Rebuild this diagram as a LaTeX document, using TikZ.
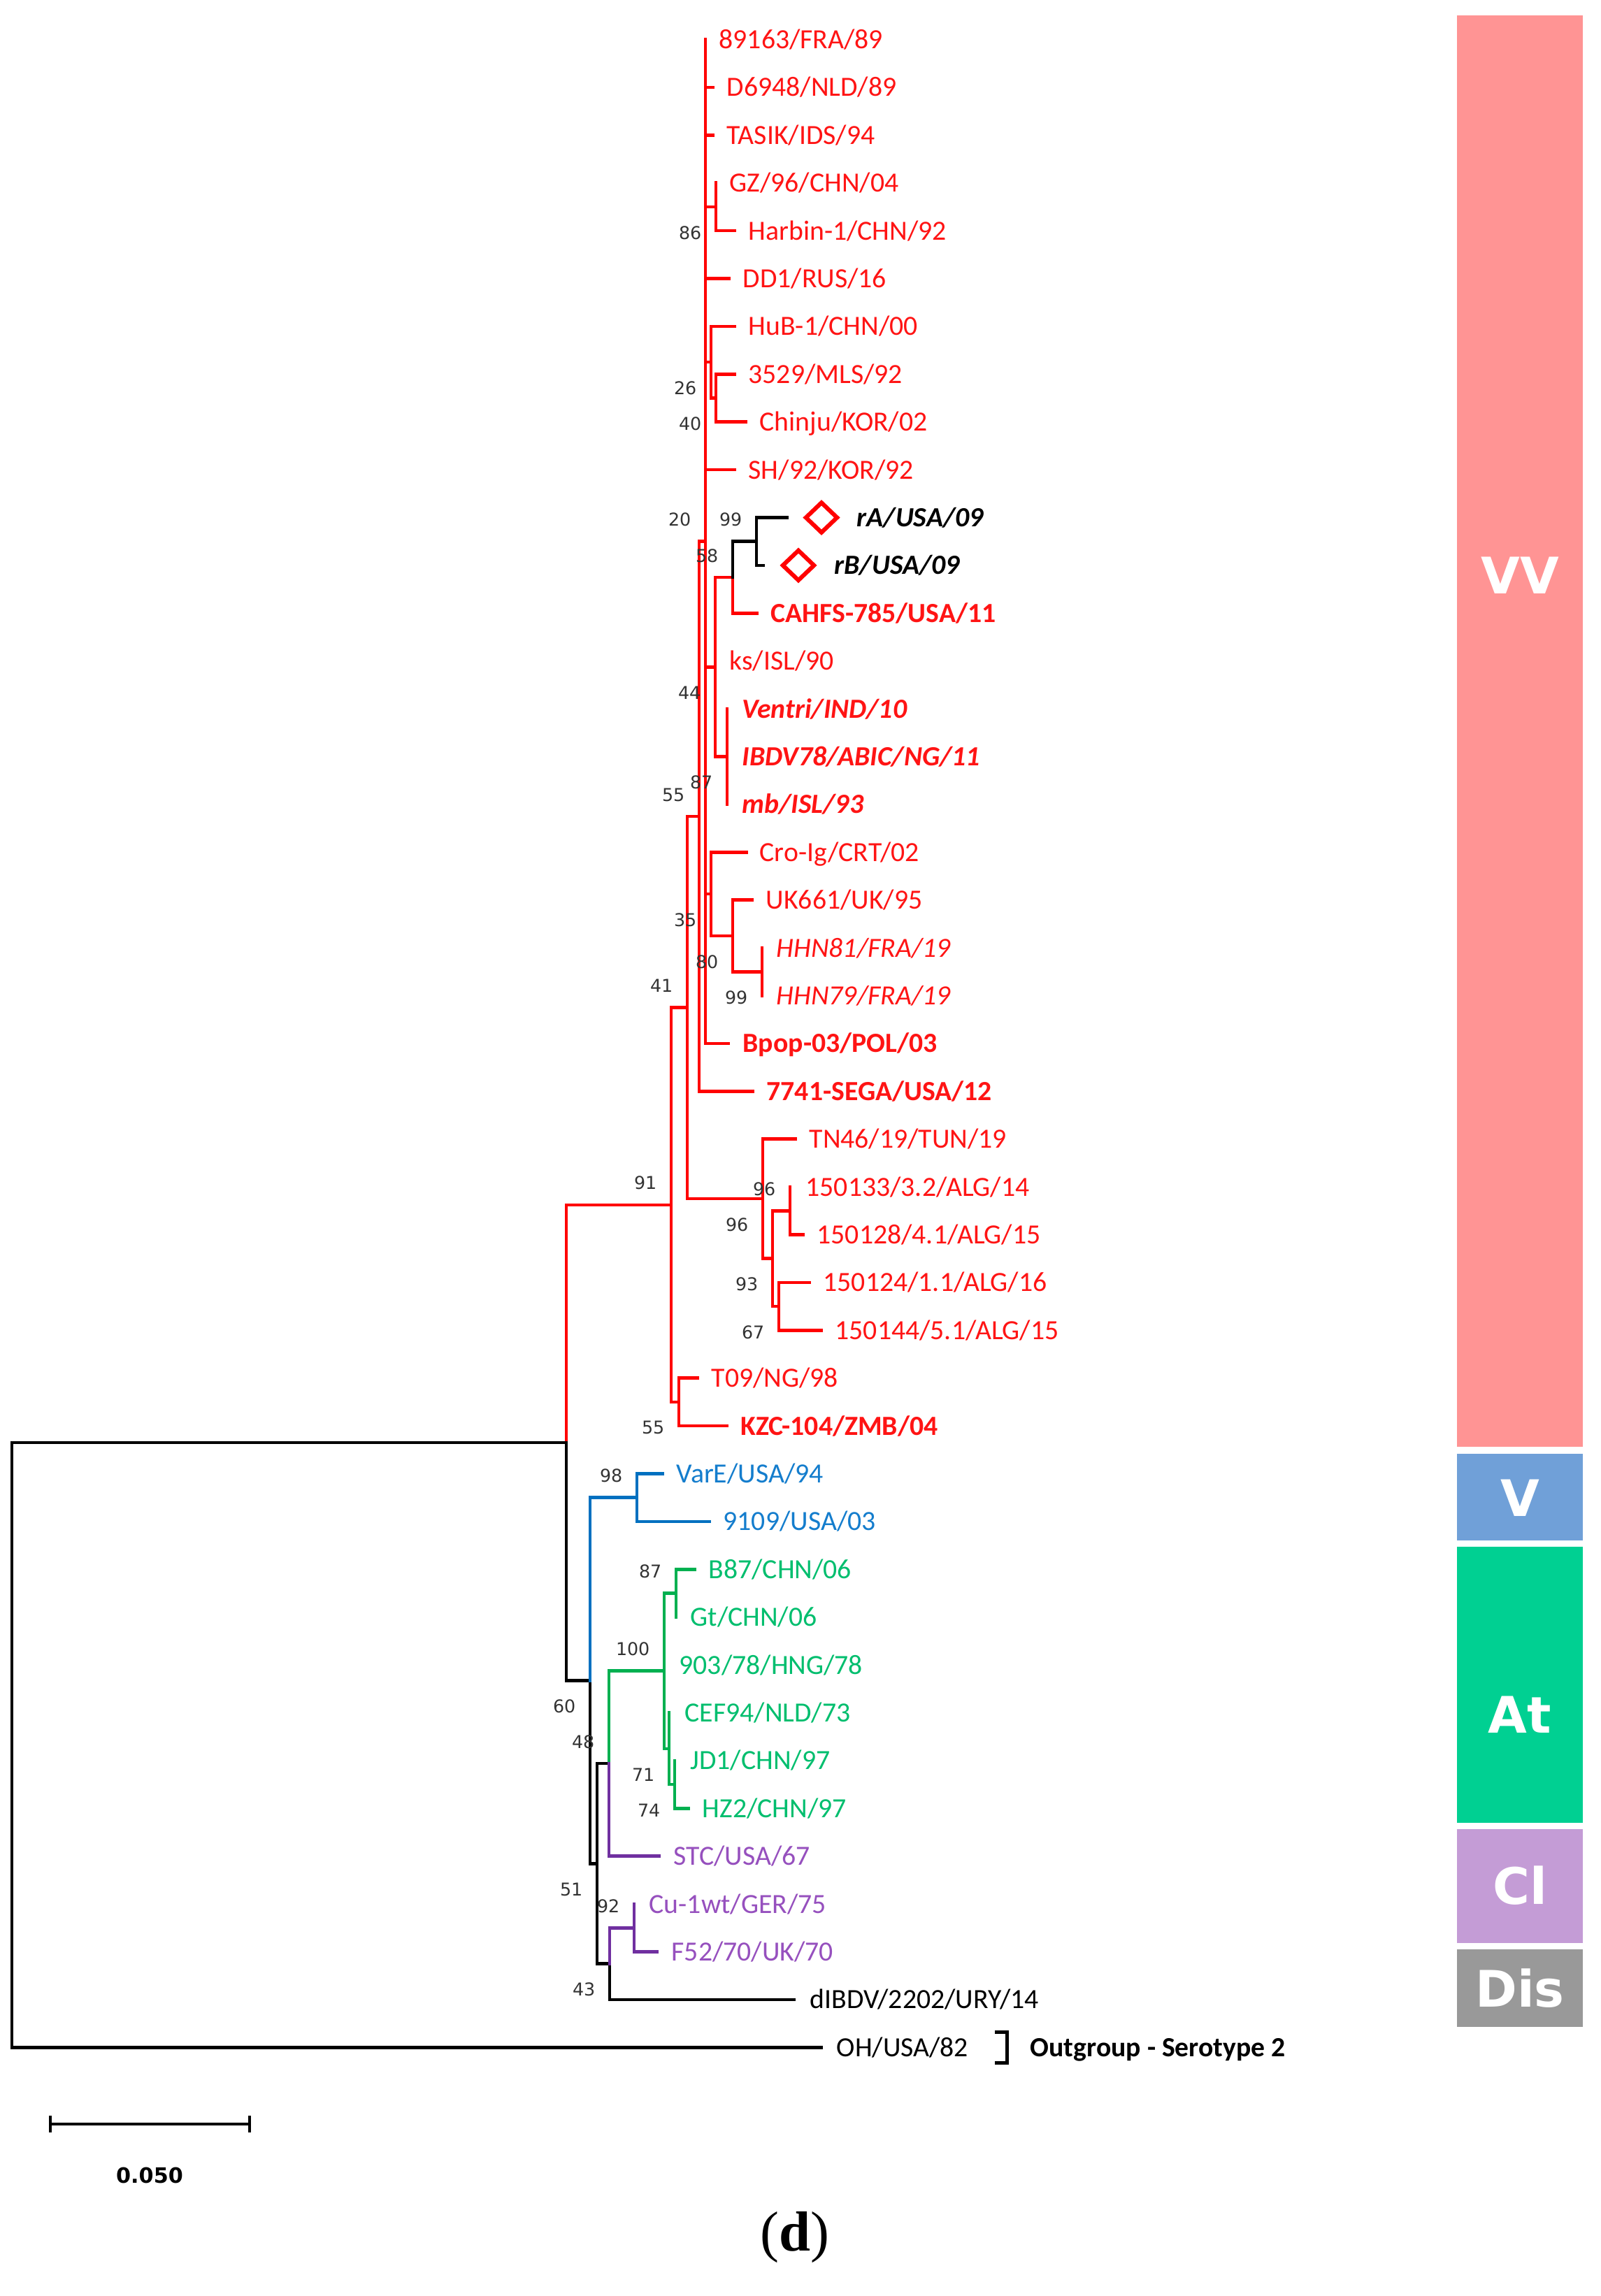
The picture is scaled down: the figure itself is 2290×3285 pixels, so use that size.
\documentclass[tikz,border=0pt]{standalone}
\usepackage{fontspec}
\setmainfont{Carlito}
\newfontfamily\bsf{DejaVu Sans}
\newfontfamily\serf{Liberation Serif}
\usetikzlibrary{shapes.geometric}
\definecolor{vblue}{RGB}{0,112,192}
\definecolor{atgreen}{RGB}{0,176,80}
\definecolor{clpurple}{RGB}{112,48,160}
\definecolor{labred}{RGB}{255,20,20}
\definecolor{labblue}{RGB}{20,125,205}
\definecolor{labgreen}{RGB}{0,190,110}
\definecolor{labpurple}{RGB}{150,80,190}
\definecolor{barvv}{RGB}{255,148,148}
\definecolor{barv}{RGB}{112,160,216}
\definecolor{barat}{RGB}{0,208,146}
\definecolor{barcl}{RGB}{196,156,214}
\definecolor{bardis}{RGB}{153,153,153}
\newcommand\labfont{\fontsize{11.3}{13}\selectfont}
\newcommand\bsfont{\bsf\fontsize{7.2}{8}\selectfont}
\tikzset{
  edge/.style={line width=0.45mm, line cap=rect, line join=miter},
  redge/.style={edge, red},
  kedge/.style={edge, black},
  bedge/.style={edge, vblue},
  gedge/.style={edge, atgreen},
  pedge/.style={edge, clpurple},
  lab/.style={font=\labfont, inner sep=0pt, anchor=base west},
  rl/.style={lab, text=labred},
  bl/.style={lab, text=labblue},
  gl/.style={lab, text=labgreen},
  pl/.style={lab, text=labpurple},
  kl/.style={lab, text=black},
  bs/.style={font=\bsfont, inner sep=0pt, anchor=east, text=black!80},
  dmd/.style={diamond, draw=red, line width=0.6mm, inner sep=0pt, minimum width=4.7mm, minimum height=4.5mm},
  bartxt/.style={font=\bsf\bfseries\fontsize{20.5}{22}\selectfont, text=white, inner sep=0pt},
}
\begin{document}
\begin{tikzpicture}[x=0.1mm,y=-0.1mm]
\fill[white] (0,0) rectangle (2290,3285);
\useasboundingbox (0,0) rectangle (2290,3285);

% ---------- leaf tips ----------
\coordinate (t0) at (1009,56.5);
\coordinate (t1) at (1020,124.9);
\coordinate (t2) at (1020,193.3);
\coordinate (t3) at (1024,261.7);
\coordinate (t4) at (1051,330.1);
\coordinate (t5) at (1043,398.5);
\coordinate (t6) at (1051,466.9);
\coordinate (t7) at (1051,535.3);
\coordinate (t8) at (1067,603.7);
\coordinate (t9) at (1051,672.1);
\coordinate (t10) at (1126,740.5);
\coordinate (t11) at (1092,808.9);
\coordinate (t12) at (1083,877.3);
\coordinate (t13) at (1023,945.7);
\coordinate (t14) at (1040,1014.1);
\coordinate (t15) at (1040,1082.5);
\coordinate (t16) at (1040,1150.9);
\coordinate (t17) at (1068,1219.3);
\coordinate (t18) at (1076,1287.7);
\coordinate (t19) at (1090,1356.1);
\coordinate (t20) at (1090,1424.5);
\coordinate (t21) at (1042,1492.9);
\coordinate (t22) at (1077,1561.3);
\coordinate (t23) at (1138,1629.7);
\coordinate (t24) at (1130,1698.1);
\coordinate (t25) at (1149,1766.5);
\coordinate (t26) at (1158,1834.9);
\coordinate (t27) at (1175,1903.3);
\coordinate (t28) at (998,1971.7);
\coordinate (t29) at (1040,2040.1);
\coordinate (t30) at (948,2108.5);
\coordinate (t31) at (1015,2176.9);
\coordinate (t32) at (994,2245.3);
\coordinate (t33) at (967,2313.7);
\coordinate (t34) at (950,2382.1);
\coordinate (t35) at (957,2450.5);
\coordinate (t36) at (965,2518.9);
\coordinate (t37) at (985,2587.3);
\coordinate (t38) at (943,2655.7);
\coordinate (t39) at (907,2724.1);
\coordinate (t40) at (940,2792.5);
\coordinate (t41) at (1136,2860.9);
\coordinate (t42) at (1175,2929.3);

% ---------- internal nodes ----------
\coordinate (nR) at (17,2496.7);
\coordinate (nIG) at (810,2064.1);
\coordinate (n91) at (960,1723.75);
\coordinate (n41) at (983,1441.6);
\coordinate (n55) at (1000,1168);
\coordinate (p20) at (1009,774.7);
\coordinate (n86) at (1024,295.9);
\coordinate (n26) at (1017,518.2);
\coordinate (n40) at (1024,569.5);
\coordinate (n44) at (1023,954.25);
\coordinate (n58) at (1048,826);
\coordinate (n99) at (1082,774.7);
\coordinate (n87) at (1040,1082.5);
\coordinate (n35) at (1017,1279.15);
\coordinate (n80) at (1048,1339);
\coordinate (n99b) at (1090,1390.3);
\coordinate (n96a) at (1091,1715.2);
\coordinate (n93) at (1105,1800.7);
\coordinate (n96c) at (1130,1732.3);
\coordinate (n67) at (1114,1869.1);
\coordinate (n55b) at (971,2005.9);
\coordinate (n60) at (844,2404.5);
\coordinate (n98) at (911,2142.7);
\coordinate (n51) at (854,2666.4);
\coordinate (n48) at (871,2523.2);
\coordinate (n100) at (950,2390.65);
\coordinate (n87g) at (967,2279.5);
\coordinate (n71) at (957,2501.8);
\coordinate (n74) at (965,2553.1);
\coordinate (n43) at (872,2809.6);
\coordinate (n92) at (907,2758.3);

% ---------- branches ----------
% very virulent (red)
\draw[redge] (nIG) |- (n91);
\foreach \c in {n41,n55b} \draw[redge] (n91) |- (\c);
\foreach \c in {t28,t29} \draw[redge] (n55b) |- (\c);
\foreach \c in {n55,n96a} \draw[redge] (n41) |- (\c);
\foreach \c in {p20,t22} \draw[redge] (n55) |- (\c);
\foreach \c in {t0,t1,t2,n86,t5,n26,t9,n44,n35,t21} \draw[redge] (p20) |- (\c);
\foreach \c in {t3,t4} \draw[redge] (n86) |- (\c);
\foreach \c in {t6,n40} \draw[redge] (n26) |- (\c);
\foreach \c in {t7,t8} \draw[redge] (n40) |- (\c);
\foreach \c in {n58,t13,n87} \draw[redge] (n44) |- (\c);
\draw[redge] (n58) |- (t12);
\foreach \c in {t14,t15,t16} \draw[redge] (n87) |- (\c);
\foreach \c in {t17,n80} \draw[redge] (n35) |- (\c);
\foreach \c in {t18,n99b} \draw[redge] (n80) |- (\c);
\foreach \c in {t19,t20} \draw[redge] (n99b) |- (\c);
\foreach \c in {t23,n93} \draw[redge] (n96a) |- (\c);
\foreach \c in {n96c,n67} \draw[redge] (n93) |- (\c);
\foreach \c in {t24,t25} \draw[redge] (n96c) |- (\c);
\foreach \c in {t26,t27} \draw[redge] (n67) |- (\c);
% black
\foreach \c in {nIG,t42} \draw[kedge] (nR) |- (\c);
\draw[kedge] (nIG) |- (n60);
\draw[kedge] (n60) |- (n51);
\foreach \c in {n48,n43} \draw[kedge] (n51) |- (\c);
\draw[kedge] (n43) |- (t41);
\draw[kedge] (n58) |- (n99);
\foreach \c in {t10,t11} \draw[kedge] (n99) |- (\c);
% variant (blue)
\draw[bedge] (n60) |- (n98);
\foreach \c in {t30,t31} \draw[bedge] (n98) |- (\c);
% attenuated (green)
\draw[gedge] (n48) |- (n100);
\foreach \c in {n87g,t34,n71} \draw[gedge] (n100) |- (\c);
\foreach \c in {t32,t33} \draw[gedge] (n87g) |- (\c);
\foreach \c in {t35,n74} \draw[gedge] (n71) |- (\c);
\foreach \c in {t36,t37} \draw[gedge] (n74) |- (\c);
% classical (purple)
\draw[pedge] (n48) |- (t38);
\draw[pedge] (n43) |- (n92);
\foreach \c in {t39,t40} \draw[pedge] (n92) |- (\c);

% ---------- diamonds ----------
\path (t10) ++(49,0) node[dmd] (d10) {};
\path (t11) ++(50,0) node[dmd] (d11) {};

% ---------- leaf labels ----------
\path (t0) ++(19,13) node[rl] (l0) {89163/FRA/89};
\path (t1) ++(19,13) node[rl] (l1) {D6948/NLD/89};
\path (t2) ++(19,13) node[rl] (l2) {TASIK/IDS/94};
\path (t3) ++(19,13) node[rl] (l3) {GZ/96/CHN/04};
\path (t4) ++(19,13) node[rl] (l4) {Harbin-1/CHN/92};
\path (t5) ++(19,13) node[rl] (l5) {DD1/RUS/16};
\path (t6) ++(19,13) node[rl] (l6) {HuB-1/CHN/00};
\path (t7) ++(19,13) node[rl] (l7) {3529/MLS/92};
\path (t8) ++(19,13) node[rl] (l8) {Chinju/KOR/02};
\path (t9) ++(19,13) node[rl] (l9) {SH/92/KOR/92};
\path (t10) ++(99,13) node[kl] (l10) {\bfseries\itshape rA/USA/09};
\path (t11) ++(101,13) node[kl] (l11) {\bfseries\itshape rB/USA/09};
\path (t12) ++(19,13) node[rl] (l12) {\bfseries CAHFS-785/USA/11};
\path (t13) ++(20,13) node[rl] (l13) {ks/ISL/90};
\path (t14) ++(21,13) node[rl] (l14) {\bfseries\itshape Ventri/IND/10};
\path (t15) ++(21,13) node[rl] (l15) {\bfseries\itshape IBDV78/ABIC/NG/11};
\path (t16) ++(21,13) node[rl] (l16) {\bfseries\itshape mb/ISL/93};
\path (t17) ++(18,13) node[rl] (l17) {Cro-Ig/CRT/02};
\path (t18) ++(19,13) node[rl] (l18) {UK661/UK/95};
\path (t19) ++(20,13) node[rl] (l19) {\itshape HHN81/FRA/19};
\path (t20) ++(20,13) node[rl] (l20) {\itshape HHN79/FRA/19};
\path (t21) ++(20,13) node[rl] (l21) {\bfseries Bpop-03/POL/03};
\path (t22) ++(19,13) node[rl] (l22) {\bfseries 7741-SEGA/USA/12};
\path (t23) ++(19,13) node[rl] (l23) {TN46/19/TUN/19};
\path (t24) ++(22,13) node[rl] (l24) {150133/3.2/ALG/14};
\path (t25) ++(19,13) node[rl] (l25) {150128/4.1/ALG/15};
\path (t26) ++(19,13) node[rl] (l26) {150124/1.1/ALG/16};
\path (t27) ++(19,13) node[rl] (l27) {150144/5.1/ALG/15};
\path (t28) ++(19,13) node[rl] (l28) {T09/NG/98};
\path (t29) ++(19,13) node[rl] (l29) {\bfseries KZC-104/ZMB/04};
\path (t30) ++(19,13) node[bl] (l30) {VarE/USA/94};
\path (t31) ++(19,13) node[bl] (l31) {9109/USA/03};
\path (t32) ++(19,13) node[gl] (l32) {B87/CHN/06};
\path (t33) ++(20,13) node[gl] (l33) {Gt/CHN/06};
\path (t34) ++(21,13) node[gl] (l34) {903/78/HNG/78};
\path (t35) ++(22,13) node[gl] (l35) {CEF94/NLD/73};
\path (t36) ++(22,13) node[gl] (l36) {JD1/CHN/97};
\path (t37) ++(19,13) node[gl] (l37) {HZ2/CHN/97};
\path (t38) ++(20,13) node[pl] (l38) {STC/USA/67};
\path (t39) ++(21,13) node[pl] (l39) {Cu-1wt/GER/75};
\path (t40) ++(20,13) node[pl] (l40) {F52/70/UK/70};
\path (t41) ++(22,13) node[kl] (l41) {dIBDV/2202/URY/14};
\path (t42) ++(21,13) node[kl] (l42) {OH/USA/82};

% ---------- bootstrap values ----------
\path (n86) ++(-20,37) node[bs] (b86) {86};
\path (n26) ++(-20,37) node[bs] (b26) {26};
\path (n40) ++(-20,37) node[bs] (b40) {40};
\path (p20) ++(-20,-31) node[bs] (b20) {20};
\path (n99) ++(-20,-31) node[bs] (b99) {99};
\path (n58) ++(-20,-31) node[bs] (b58) {58};
\path (n44) ++(-20,37) node[bs] (b44) {44};
\path (n87) ++(-20,37) node[bs] (b87) {87};
\path (n55) ++(-20,-31) node[bs] (b55) {55};
\path (n35) ++(-20,37) node[bs] (b35) {35};
\path (n80) ++(-20,37) node[bs] (b80) {80};
\path (n41) ++(-20,-31) node[bs] (b41) {41};
\path (n99b) ++(-20,37) node[bs] (b99b) {99};
\path (n91) ++(-20,-31) node[bs] (b91) {91};
\path (n96c) ++(-20,-31) node[bs] (b96c) {96};
\path (n96a) ++(-20,37) node[bs] (b96a) {96};
\path (n93) ++(-20,37) node[bs] (b93) {93};
\path (n67) ++(-20,37) node[bs] (b67) {67};
\path (n55b) ++(-20,37) node[bs] (b55b) {55};
\path (n98) ++(-20,-31) node[bs] (b98) {98};
\path (n87g) ++(-20,-31) node[bs] (b87g) {87};
\path (n100) ++(-20,-31) node[bs] (b100) {100};
\path (n60) ++(-20,37) node[bs] (b60) {60};
\path (n48) ++(-20,-31) node[bs] (b48) {48};
\path (n71) ++(-20,37) node[bs] (b71) {71};
\path (n74) ++(-20,37) node[bs] (b74) {74};
\path (n51) ++(-20,37) node[bs] (b51) {51};
\path (n92) ++(-20,-31) node[bs] (b92) {92};
\path (n43) ++(-20,37) node[bs] (b43) {43};

% ---------- outgroup bracket ----------
\draw[line width=0.5mm, line join=miter] (1423,2907) -- (1440,2907) -- (1440,2951) -- (1423,2951);
\node[lab, text=black] (og) at (1473,2942) {\bfseries Outgroup - Serotype 2};

% ---------- scale bar ----------
\draw[line width=0.45mm] (72,3039) -- (357,3039);
\draw[line width=0.4mm] (72,3027) -- (72,3051);
\draw[line width=0.4mm] (357,3027) -- (357,3051);
\node[font=\bsf\bfseries\fontsize{8.6}{10}\selectfont, inner sep=0pt] (sc) at (214,3112) {0.050};

% ---------- genotype bars ----------
\fill[barvv] (2084,22) rectangle (2264,2070);
\fill[barv] (2084,2080) rectangle (2264,2204);
\fill[barat] (2084,2213) rectangle (2264,2608);
\fill[barcl] (2084,2617) rectangle (2264,2780);
\fill[bardis] (2084,2789) rectangle (2264,2900);
\node[bartxt] (gVV) at (2174,823) {VV};
\node[bartxt] (gV) at (2174,2143) {V};
\node[bartxt] (gAt) at (2174,2453) {At};
\node[bartxt] (gCl) at (2174,2698) {Cl};
\node[bartxt] (gDis) at (2174,2845) {Dis};

% ---------- caption ----------
\node[font=\serf\fontsize{23}{26}\selectfont, inner sep=0pt, anchor=base] (cap) at (1137,3220) {(\textbf{d})};
\end{tikzpicture}
\end{document}
